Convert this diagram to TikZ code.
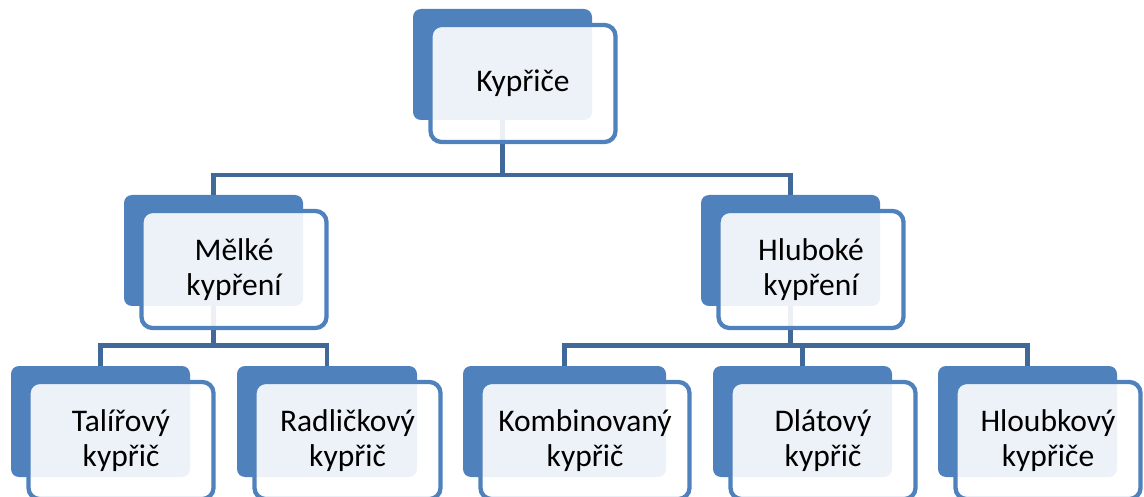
\documentclass[tikz,border=0pt]{standalone}
\usepackage{fontspec}
\setmainfont{Carlito}
\usetikzlibrary{backgrounds}
\definecolor{accent}{RGB}{79,129,189}
\definecolor{linkblue}{RGB}{64,104,152}
\tikzset{
  backbox/.style={fill=accent, rounded corners=8pt, minimum height=111pt,
    inner sep=0pt, outer sep=0pt},
  frontbox/.style={draw=accent, line width=4.3pt, fill=white, fill opacity=0.9,
    text opacity=1, rounded corners=11pt, minimum height=117pt,
    inner sep=0pt, outer sep=0pt, align=center,
    font=\fontsize{31.5}{34.5}\selectfont},
  conn/.style={draw=linkblue, line width=4.5pt},
}
\begin{document}
\begin{tikzpicture}[x=1pt, y=-1pt]
\useasboundingbox (0,0) rectangle (1144,497);
\clip (0,0) rectangle (1144,497);

% top level
\node[backbox, minimum width=179pt] (Kb) at (502.5,64.5) {};
\node[frontbox, minimum width=185pt] (Kf) at (523,83.5) {Kypřiče};

% second level
\node[backbox, minimum width=179pt] (Mb) at (213.5,250.5) {};
\node[frontbox, minimum width=185pt] (Mf) at (234,269.5) {Mělké\\kypření};
\node[backbox, minimum width=179pt] (Hb) at (790.5,250.5) {};
\node[frontbox, minimum width=185pt] (Hf) at (811,269.5) {Hluboké\\kypření};

% third level
\node[backbox, minimum width=179pt] (Tb) at (100.5,421.5) {};
\node[frontbox, minimum width=185pt] (Tf) at (121,440.5) {Talířový\\kypřič};
\node[backbox, minimum width=180pt] (Rb) at (327,421.5) {};
\node[frontbox, minimum width=186pt] (Rf) at (347.5,440.5) {Radličkový\\kypřič};
\node[backbox, minimum width=203pt] (Kob) at (564.5,421.5) {};
\node[frontbox, minimum width=209pt] (Kof) at (585,440.5) {Kombinovaný\\kypřič};
\node[backbox, minimum width=179pt] (Db) at (802.5,421.5) {};
\node[frontbox, minimum width=185pt] (Df) at (823,440.5) {Dlátový\\kypřič};
\node[backbox, minimum width=179pt] (Hlb) at (1027.5,421.5) {};
\node[frontbox, minimum width=185pt] (Hlf) at (1048,440.5) {Hloubkový\\kypřiče};

% connectors behind the boxes
\begin{pgfonlayer}{background}
  \coordinate (lvlA) at (0,175);
  \coordinate (lvlB) at (0,345.5);
  \coordinate (busA) at (Kb.south |- lvlA);
  \coordinate (busL) at (Mb.south |- lvlB);
  \coordinate (busR) at (Hb.south |- lvlB);
  \draw[conn] (Kb.south) -- (busA);
  \draw[conn] (Mb.north) |- (busA) -| (Hb.north);
  \draw[conn] (Mb.south) -- (busL);
  \draw[conn] (Tb.north) |- (busL) -| (Rb.north);
  \draw[conn] (Hb.south) -- (busR);
  \draw[conn] (Kob.north) |- (busR) -| (Hlb.north);
  \draw[conn] (Db.north |- busR) -- (Db.north);
\end{pgfonlayer}
\end{tikzpicture}
\end{document}
